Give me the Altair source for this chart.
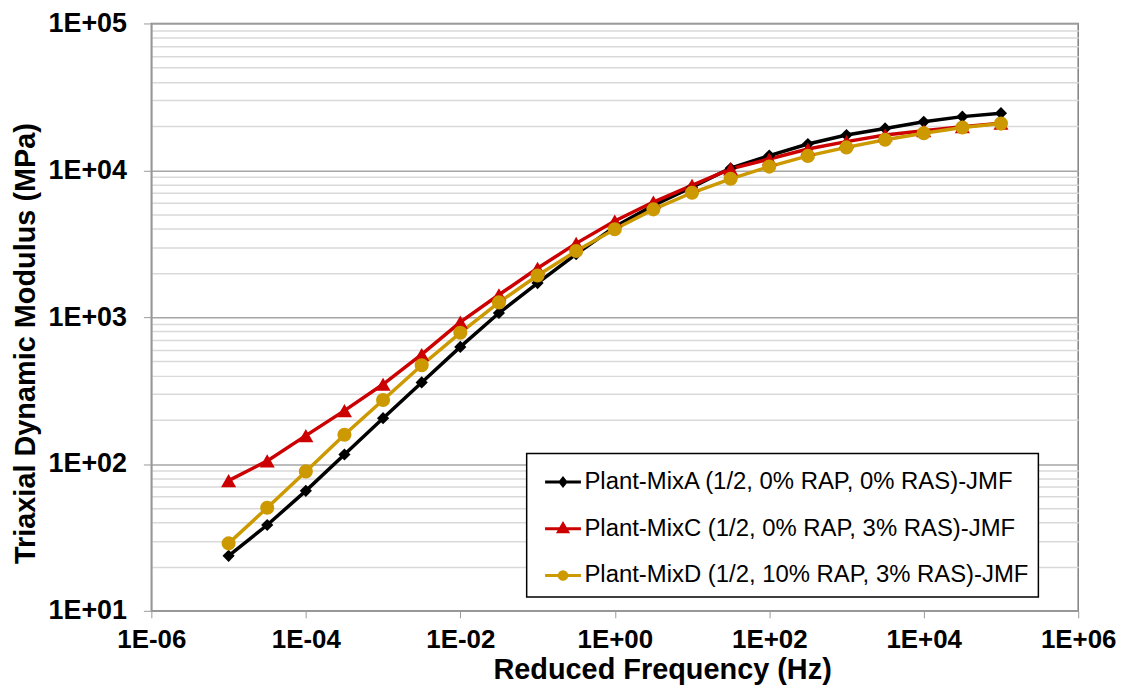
import altair as alt
import pandas as pd

# ---- data ----
freq = [1e-5, 3.162e-5, 1e-4, 3.162e-4, 1e-3, 3.162e-3, 1e-2, 3.162e-2, 0.1, 0.3162,
        1, 3.162, 10, 31.62, 100, 316.2, 1000, 3162, 10000, 31620, 100000]
mixA = [23.7, 38.4, 65.6, 116, 205, 359, 627, 1067, 1705, 2690, 4120, 5770, 7680,
        10330, 12590, 15100, 17380, 19270, 21380, 23200, 24500]
mixC = [77, 105, 156, 231, 349, 557, 925, 1420, 2150, 3180, 4520, 6080, 7890,
        10230, 11940, 13960, 15670, 17380, 18580, 19770, 20900]
mixD = [28.8, 50.3, 89, 158, 273, 470, 782, 1260, 1920, 2820, 3970, 5420, 7030,
        8750, 10600, 12530, 14320, 16140, 17900, 19540, 20800]

series_names = [
    "Plant-MixA (1/2, 0% RAP, 0% RAS)-JMF",
    "Plant-MixC (1/2, 0% RAP, 3% RAS)-JMF",
    "Plant-MixD (1/2, 10% RAP, 3% RAS)-JMF",
]
series_values = [mixA, mixC, mixD]
colors = ["#000000", "#cc0000", "#cc9900"]
shapes = ["diamond", "triangle-up", "circle"]
marker_sizes = [150, 230, 200]

x_ticks = [1e-6, 1e-4, 1e-2, 1e0, 1e2, 1e4, 1e6]
y_major = [1e1, 1e2, 1e3, 1e4, 1e5]
y_ticks = [m * d for d in y_major[:-1] for m in range(1, 10)] + [1e5]

rows = []
for name, vals in zip(series_names, series_values):
    for f, v in zip(freq, vals):
        rows.append({"freq": f, "mod": v, "series": name})
df = pd.DataFrame(rows)

# legend symbols: line segment + marker (custom SVG paths in unit space)
k = 0.5523
r = 0.21
kr = round(k * r, 4)
circle_path = (f"M-1,0L1,0M{r},0C{r},{kr} {kr},{r} 0,{r}C{-kr},{r} {-r},{kr} {-r},0"
               f"C{-r},{-kr} {-kr},{-r} 0,{-r}C{kr},{-r} {r},{-kr} {r},0Z")
legend_paths = [
    "M-1,0L1,0M0,-0.2L0.16,0L0,0.2L-0.16,0Z",
    "M-1,0L1,0M0,-0.26L0.25,0.17L-0.25,0.17Z",
    circle_path,
]

exp_e = "round(log(datum.value)/LN10)"
label_expr = f"'1E' + ({exp_e} < 0 ? '-' : '+') + (abs({exp_e}) < 10 ? '0' : '') + abs({exp_e})"
is_major = f"abs(log(datum.value)/LN10 - {exp_e}) < 0.001"

FONT = "Liberation Sans"
LEG_X, LEG_Y = 377, 432

x_enc = alt.X(
    "freq:Q",
    scale=alt.Scale(type="log", domain=[1e-6, 1e6], nice=False),
    axis=alt.Axis(
        values=x_ticks, labelExpr=label_expr, grid=False,
        title="Reduced Frequency (Hz)", tickSize=7, tickColor="#999999",
        domainColor="#999999", domainWidth=1.5, labelFlush=False, labelOverlap=False,
        labelPadding=9, labelFontSize=26, labelFont=FONT, labelFontWeight="bold",
        labelColor="#000000", titleFontSize=29, titleFont=FONT, titleFontWeight="bold",
        titleColor="#000000", titlePadding=3, titleX=513,
    ),
)
y_enc = alt.Y(
    "mod:Q",
    scale=alt.Scale(type="log", domain=[10, 1e5], nice=False),
    axis=alt.Axis(
        values=y_ticks,
        labelExpr=f"{is_major} ? ({label_expr}) : ''",
        grid=True,
        gridColor={"condition": {"test": is_major, "value": "#a6a6a6"}, "value": "#d9d9d9"},
        gridWidth=1.5,
        tickColor={"condition": {"test": is_major, "value": "#999999"}, "value": "transparent"},
        tickSize=8, domainColor="#999999", domainWidth=1.5, labelOverlap=False,
        labelPadding=17, labelFontSize=27, labelFont=FONT, labelFontWeight="bold",
        labelColor="#000000", title="Triaxial Dynamic Modulus (MPa)", titleFontSize=29,
        titleFont=FONT, titleFontWeight="bold", titleColor="#000000", titlePadding=8,
        titleY=321,
    ),
)

# colour scale driven by the data (sorted A, C, D) and no legend of its own
color_enc = alt.Color("series:N", scale=alt.Scale(range=colors), legend=None)

lines = alt.Chart(df).mark_line(strokeWidth=3.5).encode(
    x=x_enc, y=y_enc, color=color_enc, order=alt.Order("freq:Q"),
)

point_layers = []
for name, shp, sz in zip(series_names, shapes, marker_sizes):
    point_layers.append(
        alt.Chart(df).transform_filter(alt.datum.series == name)
        .mark_point(filled=True, opacity=1, shape=shp, size=sz)
        .encode(x="freq:Q", y="mod:Q", color=color_enc)
    )

# legend-only layer (draws no marks): line segment + marker symbols
legend_def = alt.Legend(
    title=None, orient="none", legendX=LEG_X, legendY=LEG_Y,
    symbolSize=1296, symbolStrokeWidth=3, symbolOpacity=1,
    labelFontSize=24, labelFont=FONT, labelColor="#000000",
    labelLimit=800, labelOffset=2, rowPadding=15, padding=9,
    symbolOffset=8, strokeColor="#000000", fillColor="#ffffff",
)
legend_layer = alt.Chart(df).transform_filter("false").mark_point(filled=True, opacity=1).encode(
    x="freq:Q", y="mod:Q",
    fill=alt.Fill("series:N", scale=alt.Scale(domain=series_names, range=colors), legend=legend_def),
    stroke=alt.Stroke("series:N", scale=alt.Scale(domain=series_names, range=colors), legend=legend_def),
    shape=alt.Shape("series:N", scale=alt.Scale(domain=series_names, range=legend_paths), legend=legend_def),
)

chart = (
    alt.layer(lines, *point_layers, legend_layer)
    .properties(
        width=931, height=590,
        autosize=alt.AutoSizeParams(type="none"),
        padding={"left": 144, "top": 14, "right": 45, "bottom": 77},
        background="#ffffff",
    )
    .configure_view(stroke="#7f7f7f", strokeWidth=1.5)
    .configure_legend(strokeWidth=1.5)
)

chart.save("out.html", embed_options={"renderer": "svg", "actions": False})
